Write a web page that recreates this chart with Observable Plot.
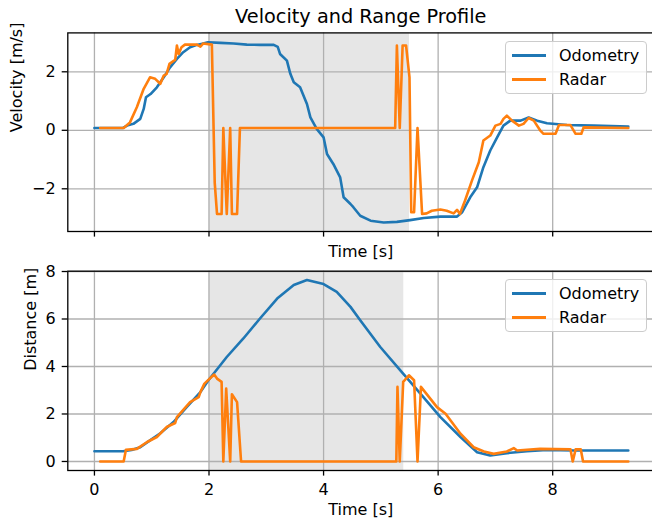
<!DOCTYPE html>
<html><head><meta charset="utf-8">
<script src="https://cdn.jsdelivr.net/npm/d3@7"></script>
<script src="https://cdn.jsdelivr.net/npm/@observablehq/plot@0.6"></script>
<style>
html,body{margin:0;padding:0;background:#fff;overflow:hidden;}
#chart{position:relative;width:660px;height:519px;font-family:"DejaVu Sans",sans-serif;}
#chart svg{position:absolute;left:0;}
.legend{position:absolute;left:505px;width:142px;height:53px;border:1px solid #cccccc;border-radius:4px;background:rgba(255,255,255,0.8);box-sizing:border-box;font-family:"DejaVu Sans",sans-serif;font-size:16px;color:#000;}
.legend .sw{position:absolute;left:6px;width:34px;height:3px;}
.legend .lb{position:absolute;left:53px;line-height:16px;white-space:nowrap;}
</style>
</head><body>
<div id="chart"></div>
<script>
// ---- data ----
const title = "Velocity and Range Profile";
const seriesNames = ["Odometry", "Radar"];
const seriesColors = ["#1f77b4", "#ff7f0e"];
const xTicks = [0, 2, 4, 6, 8];
const velTicks = [-2, 0, 2];
const distTicks = [0, 2, 4, 6, 8];
const shadeTop = [2.0, 5.5];
const shadeBottom = [2.0, 5.4];

const odomVelT = [0, 0.5, 0.57, 0.68, 0.8, 0.86, 0.9, 0.98, 1.09, 1.21, 1.32, 1.44, 1.55, 1.67, 1.79, 1.9, 1.98, 2.2, 2.43, 2.66, 2.89, 3.13, 3.2, 3.24, 3.36, 3.42, 3.48, 3.59, 3.71, 3.77, 3.88, 4.0, 4.06, 4.17, 4.29, 4.35, 4.47, 4.52, 4.64, 4.82, 5.05, 5.28, 5.51, 5.75, 6.04, 6.33, 6.42, 6.56, 6.68, 6.79, 6.91, 7.03, 7.14, 7.26, 7.44, 7.58, 7.73, 7.9, 8.25, 8.72, 9.32];
const odomVel = [0.08, 0.08, 0.16, 0.22, 0.39, 0.73, 1.13, 1.24, 1.47, 1.81, 2.15, 2.44, 2.67, 2.84, 2.92, 2.97, 3.01, 2.99, 2.97, 2.93, 2.92, 2.92, 2.85, 2.61, 2.38, 1.93, 1.64, 1.47, 0.90, 0.44, 0.05, -0.24, -0.81, -1.15, -1.61, -2.29, -2.52, -2.63, -2.92, -3.09, -3.15, -3.13, -3.07, -3.0, -2.95, -2.95, -2.80, -2.29, -1.95, -1.26, -0.69, -0.24, 0.16, 0.33, 0.33, 0.44, 0.33, 0.24, 0.18, 0.16, 0.13];

const radarVelT = [0.1, 0.51, 0.62, 0.74, 0.86, 0.97, 1.06, 1.15, 1.21, 1.26, 1.31, 1.41, 1.44, 1.47, 1.52, 1.58, 1.79, 1.85, 1.90, 2.05, 2.10, 2.14, 2.22, 2.25, 2.31, 2.37, 2.40, 2.49, 2.54, 5.25, 5.28, 5.33, 5.38, 5.44, 5.50, 5.53, 5.58, 5.64, 5.72, 5.80, 5.89, 6.04, 6.15, 6.27, 6.33, 6.38, 6.47, 6.59, 6.71, 6.79, 6.91, 7.0, 7.09, 7.14, 7.20, 7.29, 7.41, 7.49, 7.58, 7.67, 7.78, 7.84, 8.05, 8.11, 8.31, 8.40, 8.50, 8.54, 9.32];
const radarVel = [0.08, 0.08, 0.27, 0.79, 1.42, 1.81, 1.76, 1.59, 1.87, 1.93, 2.27, 2.41, 2.90, 2.61, 2.84, 2.93, 2.93, 2.86, 2.97, 2.93, -1.8, -2.86, -2.86, 0.08, -2.86, 0.08, -2.86, -2.86, 0.08, 0.08, 2.90, 0.08, 2.90, 2.90, 1.81, -2.80, -2.80, 0.08, -2.86, -2.84, -2.75, -2.71, -2.75, -2.84, -2.72, -2.86, -2.40, -1.72, -1.09, -0.35, -0.18, 0.16, 0.22, 0.39, 0.50, 0.33, 0.16, 0.22, 0.42, 0.33, 0.0, -0.12, -0.12, 0.18, 0.18, -0.12, -0.12, 0.10, 0.08];

const odomDistT = [0, 0.5, 0.65, 0.8, 0.97, 1.15, 1.38, 1.61, 1.85, 1.99, 2.31, 2.60, 2.89, 3.19, 3.48, 3.71, 4.0, 4.23, 4.47, 4.64, 4.99, 5.34, 5.69, 6.04, 6.39, 6.68, 6.91, 7.20, 7.55, 7.90, 8.37, 9.32];
const odomDist = [0.43, 0.43, 0.48, 0.60, 0.89, 1.19, 1.66, 2.29, 2.92, 3.42, 4.40, 5.18, 6.02, 6.86, 7.43, 7.64, 7.47, 7.14, 6.51, 5.95, 4.82, 3.84, 2.86, 1.87, 1.03, 0.39, 0.25, 0.35, 0.43, 0.49, 0.46, 0.46];

const radarDistT = [0.1, 0.51, 0.55, 0.74, 0.92, 1.09, 1.26, 1.41, 1.44, 1.67, 1.82, 1.85, 1.92, 2.09, 2.14, 2.22, 2.25, 2.30, 2.37, 2.40, 2.49, 2.56, 5.27, 5.29, 5.33, 5.39, 5.49, 5.58, 5.64, 5.70, 5.98, 6.13, 6.39, 6.62, 6.80, 6.97, 7.20, 7.32, 7.38, 7.78, 8.31, 8.35, 8.40, 8.49, 8.53, 9.32];
const radarDist = [0, 0, 0.49, 0.53, 0.82, 1.03, 1.45, 1.62, 1.87, 2.50, 2.71, 2.92, 3.28, 3.66, 3.49, 3.35, 0, 3.07, 0, 2.83, 2.50, 0, 0, 3.14, 0, 3.35, 3.63, 3.42, 0, 3.14, 2.29, 2.01, 1.17, 0.60, 0.42, 0.32, 0.42, 0.56, 0.46, 0.53, 0.51, 0, 0.51, 0.51, 0, 0];

// ---- build ----
const zip = (ts, vs) => ts.map((t, i) => ({t, v: vs[i]}));
const xDomain = [-0.465, 9.765];
const fmt = d => d < 0 ? "\u2212" + Math.abs(d) : String(d);
const style = {fontFamily: "DejaVu Sans", fontSize: "16px", color: "black", background: "transparent", maxWidth: "none", overflow: "visible"};
const gridOpts = {stroke: "#b0b0b0", strokeOpacity: 1, strokeWidth: 1.3};
const lw = 2.6;

const topPlot = Plot.plot({
  width: 660, height: 258,
  marginLeft: 67.3, marginRight: 6.7, marginTop: 32.4, marginBottom: 27,
  style,
  x: {domain: xDomain},
  y: {domain: [-3.46, 3.33]},
  marks: [
    Plot.rect([{x1: shadeTop[0], x2: shadeTop[1]}], {x1: "x1", x2: "x2", fill: "gray", fillOpacity: 0.2}),
    Plot.gridX(xTicks, gridOpts),
    Plot.gridY(velTicks, gridOpts),
    Plot.line(zip(odomVelT, odomVel), {x: "t", y: "v", stroke: seriesColors[0], strokeWidth: lw}),
    Plot.line(zip(radarVelT, radarVel), {x: "t", y: "v", stroke: seriesColors[1], strokeWidth: lw}),
    Plot.frame({stroke: "black", strokeWidth: 1.3}),
    Plot.axisX(xTicks, {tickSize: 5.6, tickFormat: () => "", strokeWidth: 1.3, label: null}),
    Plot.axisY(velTicks, {tickSize: 5.6, tickPadding: 6.5, tickFormat: fmt, strokeWidth: 1.3, label: null}),
    Plot.text([title], {frameAnchor: "top", dy: -16.2, fontSize: 19.3, lineAnchor: "middle"}),
    Plot.text(["Time [s]"], {frameAnchor: "bottom", dy: 20, lineAnchor: "middle"}),
    Plot.text(["Velocity [m/s]"], {frameAnchor: "left", dx: -50.9, rotate: -90, lineAnchor: "middle"})
  ]
});

const botPlot = Plot.plot({
  width: 660, height: 261,
  marginLeft: 67.3, marginRight: 6.7, marginTop: 12.7, marginBottom: 49,
  style,
  x: {domain: xDomain},
  y: {domain: [-0.38, 8.013]},
  marks: [
    Plot.rect([{x1: shadeBottom[0], x2: shadeBottom[1]}], {x1: "x1", x2: "x2", fill: "gray", fillOpacity: 0.2}),
    Plot.gridX(xTicks, gridOpts),
    Plot.gridY(distTicks, gridOpts),
    Plot.line(zip(odomDistT, odomDist), {x: "t", y: "v", stroke: seriesColors[0], strokeWidth: lw}),
    Plot.line(zip(radarDistT, radarDist), {x: "t", y: "v", stroke: seriesColors[1], strokeWidth: lw}),
    Plot.frame({stroke: "black", strokeWidth: 1.3}),
    Plot.axisX(xTicks, {tickSize: 5.6, tickPadding: 8, tickFormat: fmt, strokeWidth: 1.3, label: null}),
    Plot.axisY(distTicks, {tickSize: 5.6, tickPadding: 6.5, tickFormat: fmt, strokeWidth: 1.3, label: null}),
    Plot.text(["Time [s]"], {frameAnchor: "bottom", dy: 39.8, lineAnchor: "middle"}),
    Plot.text(["Distance [m]"], {frameAnchor: "left", dx: -37.2, rotate: -90, lineAnchor: "middle"})
  ]
});

const chart = document.getElementById("chart");
topPlot.style.top = "0px";
botPlot.style.top = "258px";
chart.appendChild(topPlot);
chart.appendChild(botPlot);

function addLegend(topPx) {
  const box = document.createElement("div");
  box.className = "legend";
  box.style.top = topPx + "px";
  seriesNames.forEach((name, i) => {
    const sw = document.createElement("div");
    sw.className = "sw";
    sw.style.background = seriesColors[i];
    sw.style.top = (12 + i * 24) + "px";
    const lb = document.createElement("div");
    lb.className = "lb";
    lb.style.top = (5.5 + i * 24) + "px";
    lb.textContent = name;
    box.appendChild(sw);
    box.appendChild(lb);
  });
  chart.appendChild(box);
}
addLegend(41);
addLegend(279);
</script>
</body></html>
